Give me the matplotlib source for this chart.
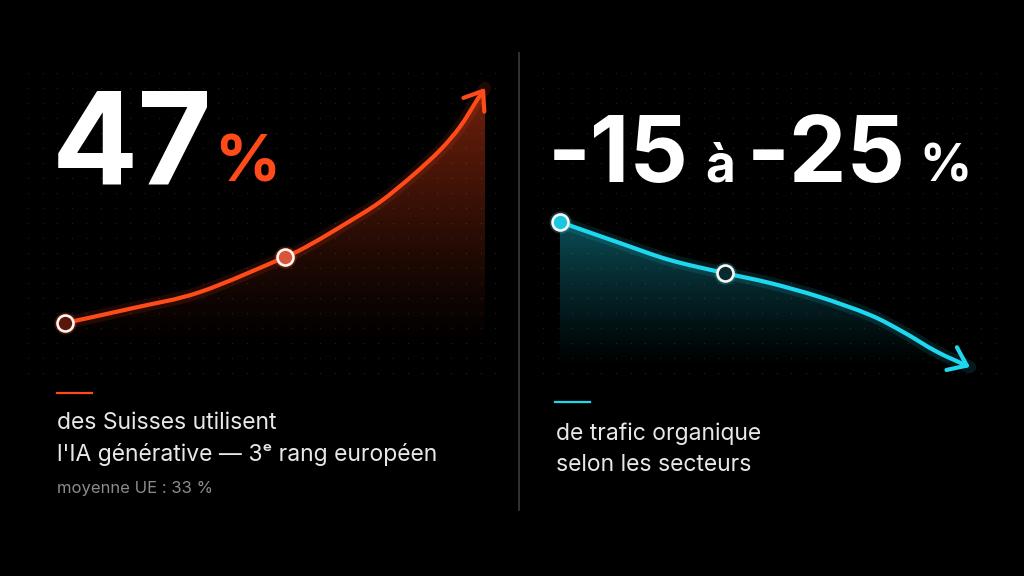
import numpy as np
import matplotlib
matplotlib.use("Agg")
import matplotlib.pyplot as plt
from matplotlib.patches import PathPatch, FancyArrowPatch
from matplotlib.path import Path
from matplotlib.lines import Line2D

plt.rcParams['font.family'] = ['Inter', 'DejaVu Sans']

# values (arbitrary 0-100 chart units)
growth_x = [0.0, 16.2, 32.1, 52.4, 59.0, 67.1, 75.0, 82.9, 89.3, 94.0, 98.1, 100.0]
growth_y = [10.3, 16.0, 22.1, 35.5, 40.8, 48.5, 56.5, 66.8, 76.3, 85.1, 95.4, 100.0]
growth_marks = [0, 3]

traffic_x = [0.0, 14.6, 26.8, 40.2, 51.2, 63.4, 75.6, 83.7, 92.0, 100.0]
traffic_y = [100.0, 85.8, 74.3, 65.5, 58.8, 49.3, 37.2, 25.7, 12.2, 2.0]
traffic_marks = [0, 3]

ORANGE = '#ff4a1a'
CYAN = '#1ed8f0'
BG = '#000000'

fig = plt.figure(figsize=(10.24, 5.76), dpi=100, facecolor=BG)

# background layer in pixel units
bg = fig.add_axes([0, 0, 1, 1])
bg.set_xlim(0, 1024)
bg.set_ylim(576, 0)
bg.axis('off')

# faint dot grid
rows = np.linspace(73, 373, 21)
for x0, ncol in [(28, 33), (543, 32)]:
    cols = x0 + 14.6 * np.arange(ncol)
    gx, gy = np.meshgrid(cols, rows)
    bg.scatter(gx.ravel(), gy.ravel(), s=1.2, color='#1c1c1c', lw=0, zorder=0)

# divider
bg.plot([519, 519], [53, 510], color='#3c3c3c', lw=1.2)


def smooth_path(xs, ys):
    # catmull-rom through the read points, drawn as cubic bezier segments
    pts = np.column_stack([xs, ys])
    verts = [pts[0]]
    codes = [Path.MOVETO]
    for i in range(len(pts) - 1):
        p0 = pts[i - 1] if i > 0 else pts[i]
        p1, p2 = pts[i], pts[i + 1]
        p3 = pts[i + 2] if i + 2 < len(pts) else pts[i + 1]
        verts += [p1 + (p2 - p0) / 6, p2 - (p3 - p1) / 6, p2]
        codes += [Path.CURVE4] * 3
    return verts, codes


def draw_curve(ax, xs, ys, marks, color, a_max, faces):
    xs = np.asarray(xs)
    ys = np.asarray(ys)
    verts, codes = smooth_path(xs, ys)

    # gradient fill under the line
    grad = np.linspace(1, 0, 256) ** 1.2
    rgba = np.zeros((256, 1, 4))
    rgba[..., :3] = matplotlib.colors.to_rgb(color)
    rgba[..., 3] = (grad * a_max)[:, None]
    im = ax.imshow(rgba, extent=[xs.min(), xs.max(), 0, ys.max()],
                   aspect='auto', origin='upper', zorder=1, interpolation='bilinear')
    clip = PathPatch(Path(verts + [(xs[-1], 0), (xs[0], 0), verts[0]],
                          codes + [Path.LINETO, Path.LINETO, Path.CLOSEPOLY]),
                     facecolor='none', edgecolor='none', transform=ax.transData)
    ax.add_patch(clip)
    im.set_clip_path(clip)

    line = Path(verts, codes)
    glow = PathPatch(line, facecolor='none', edgecolor=color, lw=9, alpha=0.12,
                     capstyle='round', zorder=2, clip_on=False)
    ax.add_patch(glow)
    arrow = FancyArrowPatch(path=line, arrowstyle='->,head_length=0.6,head_width=0.45',
                            mutation_scale=20, color=color, lw=3.0,
                            capstyle='round', joinstyle='round', zorder=3,
                            clip_on=False)
    ax.add_patch(arrow)

    for i, fc in zip(marks, faces):
        ax.plot(xs[i], ys[i], 'o', ms=16, color=color, alpha=0.25,
                zorder=4, clip_on=False, mew=0)
        ax.plot(xs[i], ys[i], 'o', ms=11.5, mfc=fc, mec='#fff4f0',
                mew=1.9, zorder=5, clip_on=False)


def panel_axes(left, top, right, bottom):
    ax = fig.add_axes([left / 1024, 1 - bottom / 576,
                       (right - left) / 1024, (bottom - top) / 576])
    ax.set_xlim(0, 100)
    ax.set_ylim(0, 100)
    ax.axis('off')
    return ax


ax_l = panel_axes(65, 88, 485, 350)
draw_curve(ax_l, growth_x, growth_y, growth_marks, ORANGE, 0.45,
           ['#5a1608', '#d9553a'])

ax_r = panel_axes(560, 222, 970, 370)
draw_curve(ax_r, traffic_x, traffic_y, traffic_marks, CYAN, 0.36,
           ['#17c8e0', '#062a30'])

# big figures
bg.text(52, 184, '47', color='white', fontsize=92, fontweight='bold',
        va='baseline', ha='left')
bg.text(214, 182, '%', color=ORANGE, fontsize=47, fontweight='bold',
        va='baseline', ha='left')

bg.text(547.5, 182, '-15', color='white', fontsize=66, fontweight='bold',
        va='baseline', ha='left')
bg.text(705, 182, 'à', color='white', fontsize=37, fontweight='bold',
        va='baseline', ha='left')
bg.text(746.5, 182, '-25', color='white', fontsize=66, fontweight='bold',
        va='baseline', ha='left')
bg.text(919, 182, '%', color='white', fontsize=37, fontweight='bold',
        va='baseline', ha='left')

# short accent rules
fig.add_artist(Line2D([57 / 1024, 92 / 1024], [1 - 393 / 576] * 2,
                      color=ORANGE, lw=1.6))
fig.add_artist(Line2D([555 / 1024, 590 / 1024], [1 - 402 / 576] * 2,
                      color=CYAN, lw=1.6))

# captions
bg.text(57, 429, 'des Suisses utilisent', color='#e8e8e8', fontsize=16.5,
        va='baseline')
bg.text(57, 461, "l'IA générative — 3ᵉ rang européen", color='#e8e8e8',
        fontsize=16.5, va='baseline')
bg.text(57, 493, 'moyenne UE : 33 %', color='#8c8c8c', fontsize=12,
        va='baseline')

bg.text(556, 440, 'de trafic organique', color='#e8e8e8', fontsize=16.5,
        va='baseline')
bg.text(556, 471, 'selon les secteurs', color='#e8e8e8', fontsize=16.5,
        va='baseline')

fig.savefig('out.png', dpi=100, facecolor=BG)
